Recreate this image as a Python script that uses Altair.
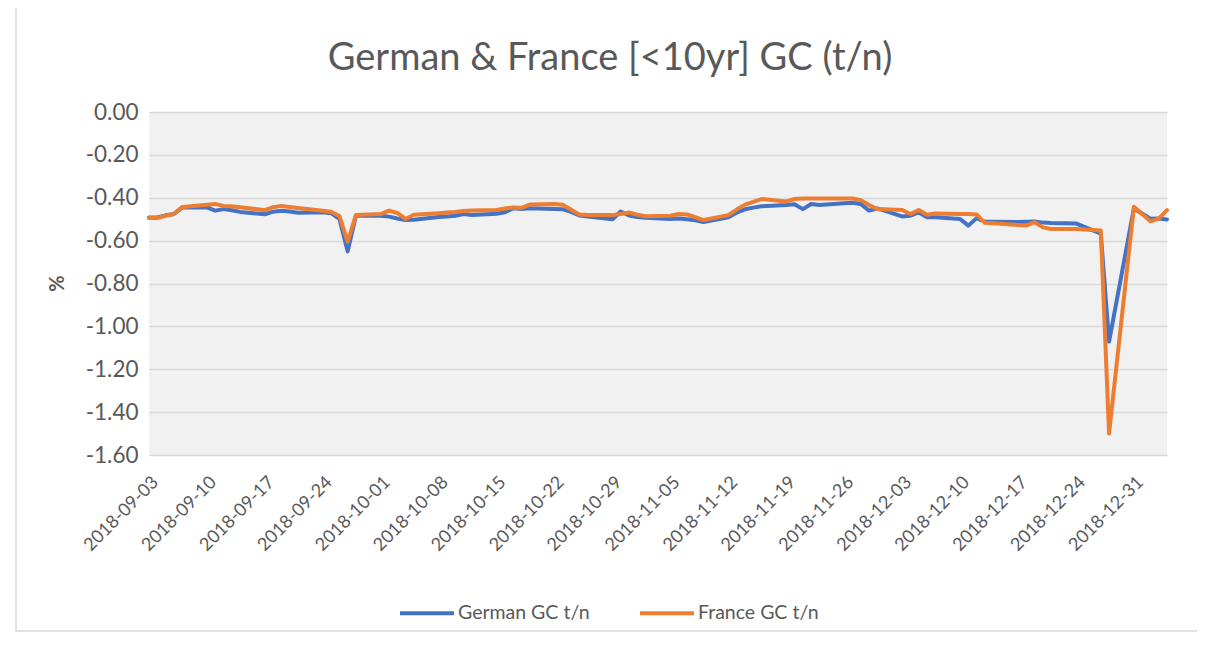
import altair as alt
import pandas as pd

# ---- data ----
dates = [
    "2018-09-03", "2018-09-04", "2018-09-05", "2018-09-06", "2018-09-07",
    "2018-09-10", "2018-09-11", "2018-09-12", "2018-09-13", "2018-09-14",
    "2018-09-17", "2018-09-18", "2018-09-19", "2018-09-20", "2018-09-21",
    "2018-09-24", "2018-09-25", "2018-09-26", "2018-09-27", "2018-09-28",
    "2018-10-01", "2018-10-02", "2018-10-03", "2018-10-04", "2018-10-05",
    "2018-10-08", "2018-10-09", "2018-10-10", "2018-10-11", "2018-10-12",
    "2018-10-15", "2018-10-16", "2018-10-17", "2018-10-18", "2018-10-19",
    "2018-10-22", "2018-10-23", "2018-10-24", "2018-10-25", "2018-10-26",
    "2018-10-29", "2018-10-30", "2018-10-31", "2018-11-01", "2018-11-02",
    "2018-11-05", "2018-11-06", "2018-11-07", "2018-11-08", "2018-11-09",
    "2018-11-12", "2018-11-13", "2018-11-14", "2018-11-15", "2018-11-16",
    "2018-11-19", "2018-11-20", "2018-11-21", "2018-11-22", "2018-11-23",
    "2018-11-26", "2018-11-27", "2018-11-28", "2018-11-29", "2018-11-30",
    "2018-12-03", "2018-12-04", "2018-12-05", "2018-12-06", "2018-12-07",
    "2018-12-10", "2018-12-11", "2018-12-12", "2018-12-13", "2018-12-14",
    "2018-12-17", "2018-12-18", "2018-12-19", "2018-12-20", "2018-12-21",
    "2018-12-24", "2018-12-27", "2018-12-28",
    "2018-12-31", "2019-01-02", "2019-01-03", "2019-01-04",
]

german = [
    -0.492, -0.492, -0.482, -0.476, -0.446,
    -0.445, -0.460, -0.453, -0.458, -0.466,
    -0.477, -0.465, -0.461, -0.464, -0.470,
    -0.468, -0.472, -0.498, -0.650, -0.484,
    -0.484, -0.488, -0.497, -0.504, -0.503,
    -0.490, -0.487, -0.484, -0.476, -0.480,
    -0.475, -0.468, -0.449, -0.452, -0.449,
    -0.452, -0.454, -0.466, -0.483, -0.488,
    -0.500, -0.464, -0.483, -0.490, -0.493,
    -0.499, -0.497, -0.500, -0.505, -0.513,
    -0.491, -0.470, -0.454, -0.446, -0.440,
    -0.434, -0.430, -0.453, -0.429, -0.434,
    -0.426, -0.423, -0.429, -0.460, -0.450,
    -0.487, -0.484, -0.468, -0.491, -0.491,
    -0.499, -0.530, -0.495, -0.512, -0.512,
    -0.513, -0.512, -0.511, -0.516, -0.518,
    -0.520, -0.567, -1.071,
    -0.450, -0.498, -0.497, -0.501,
]

france = [
    -0.495, -0.495, -0.484, -0.476, -0.443,
    -0.433, -0.429, -0.438, -0.440, -0.444,
    -0.458, -0.444, -0.438, -0.443, -0.448,
    -0.461, -0.465, -0.485, -0.605, -0.481,
    -0.476, -0.460, -0.471, -0.499, -0.479,
    -0.472, -0.469, -0.466, -0.462, -0.460,
    -0.457, -0.450, -0.445, -0.447, -0.432,
    -0.429, -0.433, -0.456, -0.478, -0.480,
    -0.481, -0.476, -0.469, -0.479, -0.486,
    -0.484, -0.476, -0.478, -0.491, -0.504,
    -0.481, -0.455, -0.432, -0.419, -0.406,
    -0.417, -0.406, -0.403, -0.403, -0.403,
    -0.403, -0.403, -0.411, -0.434, -0.453,
    -0.457, -0.476, -0.457, -0.479, -0.473,
    -0.476, -0.476, -0.478, -0.517, -0.519,
    -0.527, -0.530, -0.514, -0.538, -0.546,
    -0.546, -0.553, -1.500,
    -0.442, -0.510, -0.497, -0.458,
]

series = ["German GC t/n", "France GC t/n"]
colors = ["#4472C4", "#ED7D31"]

tick_dates = [
    "2018-09-03", "2018-09-10", "2018-09-17", "2018-09-24", "2018-10-01",
    "2018-10-08", "2018-10-15", "2018-10-22", "2018-10-29", "2018-11-05",
    "2018-11-12", "2018-11-19", "2018-11-26", "2018-12-03", "2018-12-10",
    "2018-12-17", "2018-12-24", "2018-12-31",
]
x_domain = ["2018-09-03", "2019-01-04"]
y_ticks = [0.0, -0.2, -0.4, -0.6, -0.8, -1.0, -1.2, -1.4, -1.6]
title_text = "German & France [<10yr] GC (t/n)"

FONT = "Lato"
TXT = "#595959"


def dt(s):
    y, m, d = (int(p) for p in s.split("-"))
    return alt.DateTime(year=y, month=m, date=d, utc=True)


df = pd.DataFrame({"date": dates, series[0]: german, series[1]: france})

x_enc = alt.X(
    "date:T",
    title=None,
    scale=alt.Scale(type="utc", domain=[dt(x_domain[0]), dt(x_domain[1])]),
    axis=alt.Axis(
        values=[dt(s) for s in tick_dates],
        format="%Y-%m-%d",
        labelAngle=315,
        labelAlign="right",
        labelBaseline="top",
        labelPadding=18,
        labelFont=FONT,
        labelFontSize=18,
        labelColor=TXT,
        labelOverlap=False,
        labelFlush=False,
        grid=False,
        ticks=False,
        domain=False,
    ),
)

y_enc = alt.Y(
    "value:Q",
    scale=alt.Scale(domain=[-1.6, 0], nice=False, zero=False),
    axis=alt.Axis(
        values=y_ticks,
        format=".2f",
        labelExpr="replace(datum.label, '\u2212', '-')",
        labelFont=FONT,
        labelFontSize=22.5,
        labelColor=TXT,
        labelPadding=11,
        grid=True,
        gridColor="#d9d9d9",
        gridWidth=1.3,
        ticks=False,
        domain=False,
        title="%",
        titleFont=FONT,
        titleFontSize=20,
        titleFontWeight="bold",
        titleColor=TXT,
        titleAngle=270,
        titleX=-92,
        titleY=171,
        titleAlign="center",
        titleBaseline="middle",
    ),
)

lines = (
    alt.Chart(df)
    .transform_fold(series, as_=["series", "value"])
    .mark_line(strokeWidth=4, strokeJoin="round", strokeCap="round")
    .encode(
        x=x_enc,
        y=y_enc,
        color=alt.Color(
            "series:N",
            sort=series,
            scale=alt.Scale(domain=series, range=colors),
            legend=alt.Legend(
                title=None,
                orient="none",
                direction="horizontal",
                legendX=249,
                legendY=472,
                symbolType="stroke",
                symbolSize=2916,
                symbolStrokeWidth=4,
                labelFont=FONT,
                labelFontSize=19.5,
                labelColor=TXT,
                labelOffset=2,
                columnPadding=42,
            ),
        ),
    )
)

title = (
    alt.Chart(pd.DataFrame({"t": [title_text]}))
    .mark_text(font=FONT, fontSize=38, color=TXT, align="center", baseline="alphabetic")
    .encode(text="t:N", x=alt.value(461), y=alt.value(-42))
)

border = (
    alt.Chart(pd.DataFrame({"k": [0]}))
    .mark_rect(fillOpacity=0, stroke="#d9d9d9", strokeWidth=1.5)
    .encode(x=alt.value(-133), x2=alt.value(1200), y=alt.value(-130), y2=alt.value(519))
)

chart = (
    alt.layer(border, lines, title)
    .properties(
        width=1018,
        height=343,
        padding={"left": 141, "top": 104, "right": 30, "bottom": 178},
        autosize=alt.AutoSizeParams(type="none"),
        view=alt.ViewBackground(fill="#f1f1f1", strokeWidth=0),
    )
    .configure(background="white")
)

chart.save("out.html", embed_options={"renderer": "svg", "actions": False})
